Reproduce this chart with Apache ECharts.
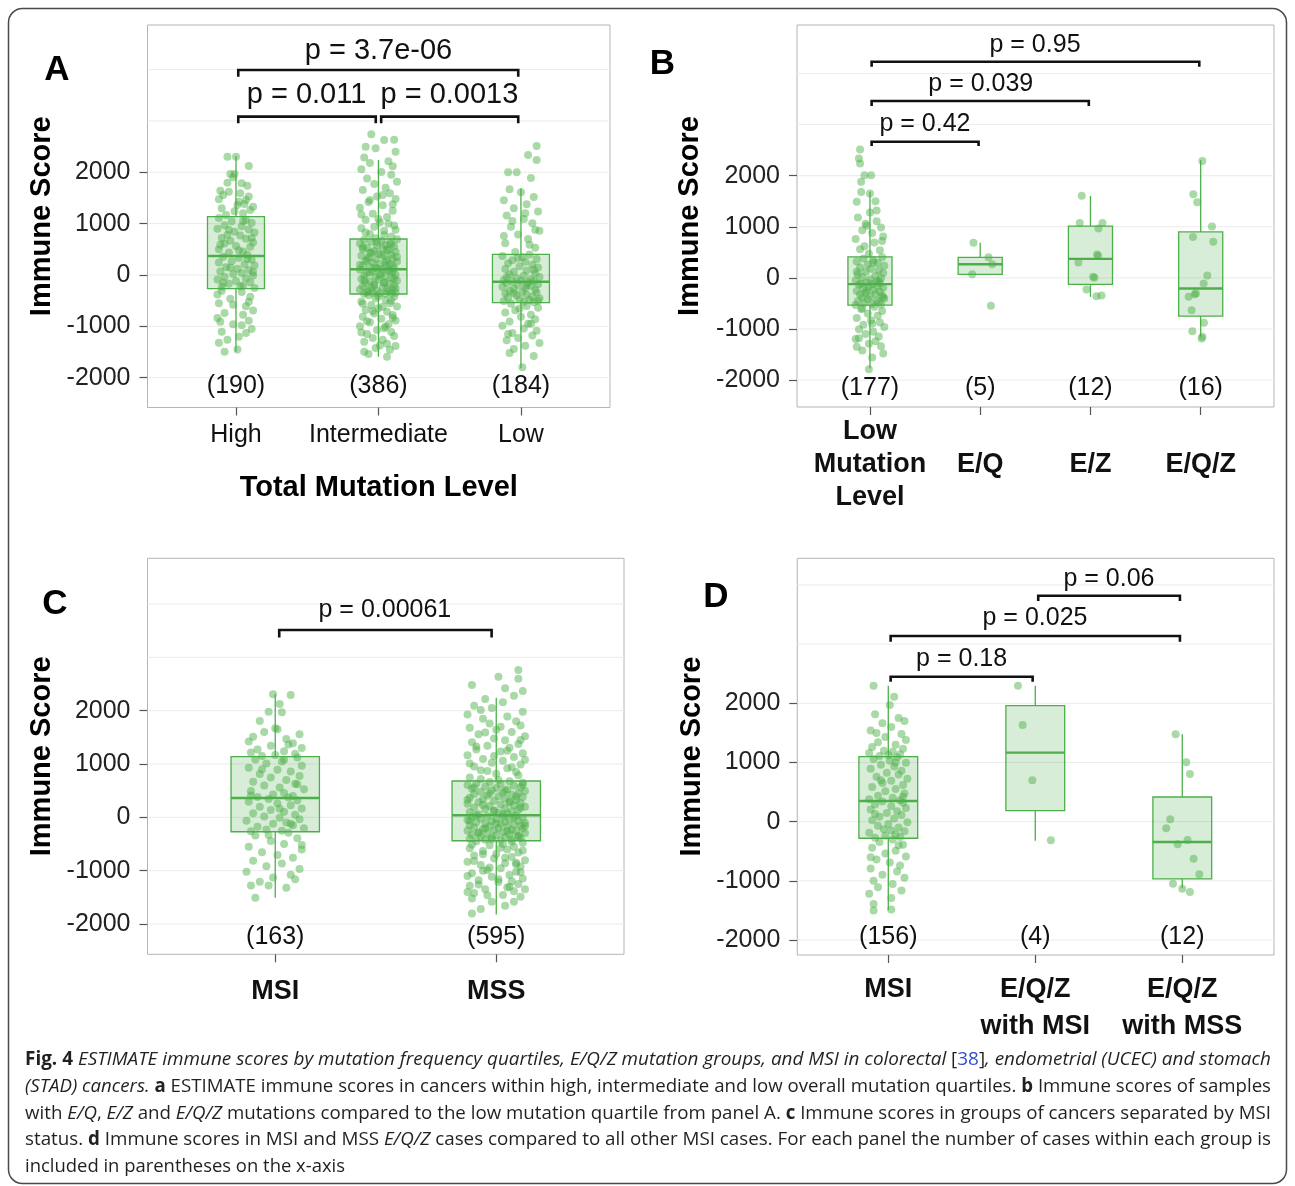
<!DOCTYPE html>
<html><head><meta charset="utf-8">
<script src="https://cdn.jsdelivr.net/npm/echarts@6/dist/echarts.min.js"></script>
<style>html,body{margin:0;padding:0;background:#fff}#c{width:1295px;height:1186px}</style>
</head><body><div id="c"></div>
<script>
// ---------------- DATA ----------------
const catsA = ['High', 'Intermediate', 'Low'];
const catsB = ['Low\nMutation\nLevel', 'E/Q', 'E/Z', 'E/Q/Z'];
const catsC = ['MSI', 'MSS'];
const catsD = ['MSI', 'E/Q/Z\nwith MSI', 'E/Q/Z\nwith MSS'];
const countsA = ['(190)', '(386)', '(184)'];
const countsB = ['(177)', '(5)', '(12)', '(16)'];
const countsC = ['(163)', '(595)'];
const countsD = ['(156)', '(4)', '(12)'];
const yTickValues = [-2000, -1000, 0, 1000, 2000];
const gridValues = [-2000, -1000, 0, 1000, 2000, 3000, 4000];

// box stats: [lower whisker, Q1, median, Q3, upper whisker]
const boxA = [[-1494, -267, 370, 1135, 2317], [-1591, -370, 111, 701, 2240], [-1817, -539, -130, 403, 1688]];
const boxB = [[-1773, -534, -123, 411, 1688], [70, 70, 265, 402, 688], [-372, -129, 372, 1012, 1605], [-1155, -750, -207, 900, 2303]];
const boxC = [[-1508, -270, 362, 1137, 2308], [-1820, -439, 38, 681, 2244]];
const boxD = [[-1492, -280, 350, 1098, 2297], [-321, 186, 1166, 1960, 2297], [-1125, -968, -343, 417, 1476]];

// brackets: [x1, x2, bar y, tip y]; p labels: [text, x, y]
const bracketsA = [[1.016, 1.981, 3083, 2954], [2.019, 2.981, 3083, 2954], [1.016, 2.981, 3992, 3862]];
const pLabelsA = [['p = 0.011', 1.495, 3505], ['p = 0.0013', 2.498, 3505], ['p = 3.7e-06', 2.0, 4368]];
const bracketsB = [[1.015, 1.985, 2665, 2581], [1.015, 2.985, 3461, 3363], [1.015, 3.987, 4232, 4134]];
const pLabelsB = [['p = 0.42', 1.499, 3018], ['p = 0.039', 2.005, 3799], ['p = 0.95', 2.497, 4558]];
const bracketsC = [[1.018, 1.979, 3514, 3370]];
const pLabelsC = [['p = 0.00061', 1.496, 3884]];
const bracketsD = [[1.016, 1.982, 2449, 2365], [1.016, 2.984, 3137, 3041], [2.020, 2.984, 3818, 3728]];
const pLabelsD = [['p = 0.18', 1.499, 2740], ['p = 0.025', 1.998, 3436], ['p = 0.06', 2.501, 4095]];

// jittered points: [horizontal jitter (category units), immune score]
const ptsAHigh = [[-0.06,2304],[0.0,2304],[0.09,2123],[-0.04,1967],[-0.01,1967],[-0.06,1798],[0.04,1785],[0.08,1739],[-0.11,1642],[-0.05,1622],[0.03,1590],[0.09,1529],[-0.12,1474],[0.02,1428],[0.06,1383],[-0.10,1298],[0.01,1363],[0.10,1266],[0.05,1201],[-0.07,1168],[-0.02,1904],[-0.09,1560],[0.12,1330],
[-0.12,1110],[0.07,1072],[-0.03,1046],[0.11,1015],[-0.08,968],[0.04,951],[-0.13,902],[0.09,887],[-0.01,843],[0.13,826],[-0.06,781],[0.03,769],[-0.10,722],[0.07,705],[-0.04,668],[0.12,631],[-0.08,612],[0.00,566],[0.10,548],[-0.12,503],[0.05,459],[-0.05,437],[0.08,392],
[-0.09,355],[0.02,330],[0.11,296],[-0.03,270],[-0.12,241],[0.06,206],[0.13,187],[-0.07,150],[0.01,122],[0.09,96],[-0.11,70],[0.04,41],[-0.02,18],[0.12,-8],[-0.08,-35],[0.07,-61],[-0.13,-90],[0.00,-118],[0.10,-142],[-0.05,-171],[0.05,-202],[-0.10,-230],[0.13,-255],
[-0.10,-306],[0.04,-330],[0.10,-423],[-0.04,-460],[-0.12,-551],[-0.02,-580],[0.07,-609],[0.12,-690],[-0.08,-740],[0.05,-772],[-0.13,-835],[0.09,-890],[-0.11,-909],[-0.02,-960],[0.04,-977],[0.11,-1050],[-0.10,-1104],[0.07,-1130],[0.02,-1201],[-0.06,-1262],[-0.12,-1318],[-0.08,-1494],[0.01,-1450],
[0.05,1050],[-0.05,880],[0.11,720],[-0.11,590],[0.02,480],[0.08,310],[-0.04,140],[0.12,60],[-0.09,-150],[0.03,-220],[-0.01,1240],[0.07,1460],[-0.13,-380],[0.09,-520]];
const ptsAInter = [[-0.05,2740],[-0.09,2499],[-0.02,2470],[0.04,2629],[0.11,2636],[0.12,2401],[-0.10,2290],[0.07,2215],[-0.06,2180],[0.10,2120],[-0.12,2060],[0.02,2005],[0.09,1950],[-0.08,1880],[0.13,1815],[-0.03,1770],[0.05,1700],[-0.11,1655],[0.08,1590],[-0.01,1530],[0.12,1480],[-0.07,1420],[0.03,1360],[-0.13,1310],[0.10,1250],[-0.04,1195],[0.06,1130],[-0.09,1075],[0.01,1020],[0.11,965],[-0.12,910],[0.04,860],[-0.06,800],[0.09,752],[-0.02,715],
[0.13,696],[-0.10,684],[0.02,661],[-0.05,648],[0.08,622],[-0.13,611],[0.05,588],[-0.01,571],[0.11,559],[-0.08,532],[0.03,517],[-0.11,506],[0.07,480],[-0.03,466],[0.12,451],[-0.06,428],[0.00,412],[0.09,401],[-0.12,377],[0.04,364],[-0.07,341],[0.10,322],[-0.02,313],[0.06,289],[-0.09,271],[0.13,262],[-0.04,238],[0.01,220],[0.08,207],[-0.11,185],[0.05,168],[-0.06,154],[0.11,133],[-0.01,124],[0.03,114],
[-0.13,104],[0.07,92],[-0.04,71],[0.10,60],[-0.08,38],[0.02,22],[0.12,5],[-0.10,-12],[0.05,-26],[-0.02,-44],[0.09,-58],[-0.12,-77],[0.00,-91],[0.13,-110],[-0.06,-124],[0.04,-141],[-0.09,-160],[0.08,-172],[-0.03,-190],[0.11,-205],[-0.11,-221],[0.03,-239],[-0.05,-252],[0.06,-270],[-0.13,-282],[0.10,-299],[-0.01,-311],[0.07,-322],[-0.08,-334],[0.12,-344],[-0.04,-351],[0.01,-358],[0.09,-362],[-0.10,-366],[0.05,-369],
[-0.07,-392],[0.11,-425],[-0.02,-451],[0.05,-488],[-0.12,-517],[0.08,-549],[-0.05,-583],[0.13,-612],[0.00,-648],[-0.09,-680],[0.06,-714],[-0.03,-748],[0.10,-781],[-0.11,-815],[0.02,-852],[0.12,-886],[-0.06,-921],[0.07,-960],[-0.13,-998],[0.04,-1035],[-0.01,-1072],[0.09,-1110],[-0.08,-1148],[0.11,-1187],[-0.04,-1225],[0.03,-1262],[-0.10,-1300],[0.06,-1340],[0.12,-1381],[-0.02,-1420],[0.08,-1455],[-0.10,-1494],[0.06,-1591],[-0.07,-1540],[0.01,-1375],
[0.03,1560],[-0.06,1460],[0.10,1380],[-0.12,1180],[0.00,1090],[0.07,1000],[-0.03,940],[0.12,880],[-0.09,830],[0.04,780],[-0.01,640],[0.09,600],[-0.11,545],[0.06,490],[-0.05,440],[0.02,390],[0.13,350],[-0.08,300],[0.05,250],[-0.13,200],[0.10,175],[-0.02,145],[0.08,80],[-0.06,50],[0.01,-5],[0.11,-70],[-0.10,-100],[0.04,-150],[-0.03,-200],[0.12,-260],[-0.07,-300],[0.00,-420],[0.09,-500],[-0.11,-560],[0.03,-620],[-0.04,-700],[0.10,-830],[-0.08,-900],[0.05,-1010],[-0.12,-1120]];
const ptsALow = [[0.11,2512],[0.05,2337],[0.11,2240],[-0.09,2000],[-0.03,2000],[0.07,1890],[-0.08,1669],[0.00,1610],[0.09,1520],[-0.12,1455],[0.04,1380],[-0.05,1300],[0.12,1235],[-0.10,1160],[0.02,1090],[0.08,1010],[-0.07,940],[0.13,860],[-0.02,790],[0.05,700],[-0.11,620],[0.10,530],[-0.04,450],
[0.06,398],[-0.13,372],[0.01,345],[0.11,311],[-0.06,287],[0.03,256],[-0.09,230],[0.08,198],[-0.01,172],[0.12,144],[-0.11,115],[0.04,90],[-0.05,63],[0.10,36],[-0.08,10],[0.02,-14],[0.13,-38],[-0.03,-57],[0.07,-77],[-0.12,-96],[0.00,-108],[0.09,-119],[-0.06,-127],
[0.05,-140],[-0.10,-160],[0.12,-178],[-0.02,-196],[0.07,-215],[-0.13,-231],[0.03,-252],[-0.05,-270],[0.10,-289],[-0.08,-305],[0.01,-326],[0.11,-341],[-0.11,-362],[0.04,-380],[-0.03,-399],[0.08,-418],[-0.09,-437],[0.13,-452],[-0.01,-472],[0.06,-489],[-0.12,-507],[0.02,-521],[0.09,-533],
[-0.07,-561],[0.04,-602],[0.12,-640],[-0.04,-688],[-0.11,-730],[0.07,-772],[0.00,-815],[0.10,-860],[-0.08,-905],[0.05,-948],[-0.13,-990],[0.02,-1040],[0.11,-1085],[-0.06,-1130],[0.08,-1178],[-0.02,-1225],[-0.10,-1270],[0.13,-1322],[0.03,-1380],[-0.05,-1440],[0.09,-1577],[0.01,-1798],[-0.08,-1520],
[0.03,1200],[-0.06,1050],[0.10,880],[-0.12,760],[0.06,590],[-0.02,330],[0.09,100],[-0.10,-40],[0.04,-200],[-0.05,-350],[0.12,-500],[-0.01,-650],[0.07,-950],[-0.09,-1150]];

const ptsBLow = [[-0.09,2513],[-0.10,2337],[-0.09,2240],[-0.05,2010],[0.01,2010],[-0.08,1880],[-0.08,1683],[0.00,1650],[0.05,1501],[-0.12,1490],[0.00,1280],[-0.11,1180],[0.06,1110],[-0.03,1020],[0.10,985],[-0.07,930],[0.02,880],[0.12,810],[-0.13,760],[0.04,690],[-0.05,620],[0.09,540],[-0.01,470],
[0.11,405],[-0.06,380],[0.03,352],[-0.12,320],[0.07,291],[-0.02,262],[0.13,238],[-0.09,205],[0.01,180],[0.08,151],[-0.04,120],[0.12,95],[-0.11,66],[0.05,41],[-0.07,14],[0.10,-10],[0.00,-33],[-0.13,-51],[0.06,-72],[-0.03,-90],[0.09,-104],[-0.08,-115],[0.02,-120],
[-0.10,-136],[0.07,-157],[-0.01,-172],[0.12,-195],[-0.06,-213],[0.03,-236],[-0.12,-255],[0.09,-274],[-0.04,-292],[0.05,-310],[-0.09,-331],[0.11,-348],[0.00,-366],[-0.07,-384],[0.13,-402],[-0.02,-420],[0.06,-441],[-0.11,-458],[0.08,-476],[-0.05,-492],[0.02,-510],[0.10,-522],[-0.13,-530],
[0.04,-566],[-0.08,-608],[0.11,-651],[-0.02,-697],[0.07,-740],[-0.12,-785],[0.01,-830],[0.09,-872],[-0.06,-918],[0.13,-962],[-0.10,-1008],[0.03,-1054],[-0.04,-1100],[0.08,-1146],[-0.13,-1195],[0.05,-1240],[-0.01,-1290],[0.10,-1338],[-0.12,-1350],[-0.07,-1420],[0.02,-1560],[-0.01,-1787],[0.12,-1480],
[0.06,1320],[-0.04,1060],[0.11,720],[-0.09,560],[0.03,300],[-0.12,120],[0.08,-60],[-0.03,-250],[0.12,-380],[-0.07,-600],[0.02,-900],[-0.10,-1180]];
const ptsBEQ = [[-0.061,688],[0.075,402],[0.109,265],[-0.073,70],[0.097,-545]];
const ptsBEZ = [[-0.079,1605],[-0.097,1076],[0.109,1076],[0.073,966],[0.060,457],[0.069,431],[-0.109,300],[0.024,20],[0.036,0],[-0.036,-228],[0.054,-358],[0.100,-345]];
const ptsBEQZ = [[0.015,2290],[-0.067,1638],[-0.031,1481],[0.102,1006],[-0.070,802],[0.114,705],[0.060,47],[0.027,-110],[-0.043,-305],[-0.109,-372],[-0.054,-319],[-0.082,-632],[0.030,-881],[-0.076,-1043],[0.015,-1155],[0.009,-1186]];

const ptsCMSI = [[-0.01,2308],[0.07,2295],[0.02,2126],[-0.03,1981],[0.03,1970],[-0.07,1807],[0.00,1670],[0.01,1650],[-0.05,1600],[0.11,1560],[-0.10,1512],[0.05,1470],[-0.12,1420],[0.08,1390],[-0.02,1340],[0.12,1300],[-0.08,1270],[0.04,1240],[-0.11,1215],[0.09,1190],[0.00,1170],[-0.06,1152],[0.06,1365],
[0.10,1120],[-0.09,1085],[0.03,1048],[-0.04,1010],[0.12,968],[-0.12,930],[0.01,890],[0.07,860],[-0.07,812],[0.11,776],[-0.02,745],[0.05,702],[-0.10,668],[0.09,630],[-0.05,596],[0.02,561],[0.13,527],[-0.11,492],[0.04,455],[-0.01,428],[0.08,402],[-0.08,381],[0.06,370],
[-0.03,345],[0.10,318],[-0.12,290],[0.01,259],[0.07,225],[-0.07,199],[0.12,168],[-0.02,137],[0.04,104],[-0.10,75],[0.09,48],[-0.05,18],[0.02,-10],[0.11,-38],[-0.13,-66],[0.05,-95],[-0.01,-122],[0.08,-148],[-0.08,-177],[0.13,-203],[-0.04,-228],[0.03,-250],[-0.11,-262],
[0.06,-290],[-0.09,-340],[0.10,-392],[-0.02,-445],[0.04,-498],[-0.12,-550],[0.12,-601],[-0.06,-655],[0.01,-708],[0.08,-760],[-0.10,-812],[0.03,-866],[-0.04,-918],[0.11,-970],[-0.13,-1022],[0.07,-1075],[-0.01,-1130],[0.09,-1160],[-0.07,-1210],[-0.11,-1280],[-0.03,-1280],[0.05,-1321],[-0.09,-1508],
[0.04,1080],[-0.06,900],[0.10,620],[-0.11,410],[0.02,160],[0.07,-120],[-0.03,-330],[0.12,-520]];
const ptsCMSS = [[0.10,2764],[0.01,2638],[-0.11,2482],[0.10,2600],[0.04,2420],[0.12,2370],[-0.05,2219],[-0.07,2013],[0.03,2160],[-0.10,2090],[0.08,2280],[-0.02,2050],[0.12,1980],[-0.13,1930],[0.05,1890],[-0.06,1850],[0.09,1800],[-0.03,1760],[0.11,1720],[-0.12,1680],[0.00,1640],[0.07,1600],[-0.08,1560],[0.13,1520],[-0.01,1480],[0.04,1445],[-0.11,1410],[0.10,1375],[-0.04,1340],[0.06,1305],[-0.09,1270],[0.02,1235],[0.12,1200],[-0.13,1165],[0.08,1130],[-0.06,1095],[0.03,1060],[-0.02,1025],[0.11,990],[-0.10,955],[0.05,920],[-0.07,885],[0.09,850],[0.00,815],[-0.12,745],
[0.06,675],[-0.03,662],[0.12,648],[-0.09,634],[0.02,620],[-0.13,606],[0.08,592],[-0.05,578],[0.11,564],[0.00,550],[-0.11,536],[0.05,522],[-0.02,508],[0.13,494],[-0.07,480],[0.03,466],[0.10,452],[-0.10,438],[0.07,424],[-0.04,410],[0.01,396],[0.12,382],[-0.12,368],[0.04,354],[-0.06,340],[0.09,326],[-0.01,312],[0.06,298],[-0.08,284],[0.11,270],[-0.13,256],[0.02,242],[0.08,228],[-0.03,214],[0.13,200],[-0.10,186],[0.04,172],[-0.05,158],[0.10,144],[-0.01,130],[0.07,116],[-0.12,102],[0.01,88],[0.05,74],[-0.08,56],
[0.09,30],[-0.04,20],[0.03,10],[-0.11,0],[0.12,-10],[-0.07,-21],[0.00,-31],[0.06,-42],[-0.13,-52],[0.10,-63],[-0.02,-73],[0.04,-84],[-0.09,-94],[0.13,-105],[-0.05,-115],[0.02,-126],[0.08,-136],[-0.12,-147],[0.11,-157],[-0.03,-168],[0.05,-178],[-0.10,-189],[0.01,-199],[0.12,-210],[-0.06,-220],[0.07,-231],[-0.01,-241],[-0.13,-252],[0.09,-262],[0.03,-273],[-0.08,-283],[0.13,-294],[-0.04,-304],[0.06,-315],[-0.11,-325],[0.00,-336],[0.10,-346],[-0.07,-357],[0.04,-367],[-0.02,-378],[0.11,-388],[-0.12,-399],[0.07,-409],[-0.05,-420],[0.02,-430],
[-0.09,-450],[0.12,-475],[0.03,-500],[-0.03,-525],[0.08,-552],[-0.12,-578],[0.05,-605],[-0.06,-632],[0.10,-660],[0.00,-688],[-0.10,-716],[0.07,-745],[-0.01,-774],[0.13,-803],[-0.13,-833],[0.04,-863],[-0.07,-893],[0.11,-924],[0.02,-955],[-0.04,-986],[0.09,-1018],[-0.11,-1050],[0.06,-1082],[-0.02,-1115],[0.12,-1148],[-0.08,-1180],[0.01,-1214],[0.10,-1248],[-0.12,-1282],[0.05,-1316],[-0.05,-1350],[0.08,-1385],[-0.10,-1420],[0.03,-1455],[0.11,-1490],[-0.13,-1400],[0.07,-1200],[-0.06,-1000],[0.09,-850],[-0.11,-1520],[-0.02,-1583],[0.08,-1583],[-0.11,-1801],[0.04,-1660],[-0.07,-1720],
[0.02,1700],[-0.05,1590],[0.11,1450],[-0.09,1330],[0.05,1250],[-0.01,1150],[0.13,1080],[-0.12,1010],[0.07,940],[-0.04,870],[0.10,790],[-0.07,720],[0.01,700],[0.12,610],[-0.10,560],[0.04,500],[-0.03,445],[0.09,390],[-0.13,330],[0.06,280],[-0.06,230],[0.11,180],[-0.01,120],[0.03,60],[-0.09,40],[0.08,-5],[-0.12,-60],[0.00,-110],[0.13,-160],[-0.05,-205],[0.05,-250],[-0.08,-300],[0.10,-360],[-0.02,-410],[0.07,-460],[-0.11,-510],[0.02,-570],[0.12,-620],[-0.06,-690],[0.04,-760],[-0.10,-820],[0.09,-880],[-0.03,-940],[0.11,-1030],[-0.13,-1100],[0.01,-1160],[0.06,-1300],[-0.08,-1260],[0.13,-1350],[-0.04,-1460]];

const ptsDMSI = [[-0.10,2297],[0.04,2111],[0.01,1971],[-0.09,1814],[-0.04,1662],[0.07,1750],[0.02,1600],[-0.12,1540],[0.09,1480],[-0.02,1430],[0.12,1380],[-0.07,1340],[0.05,1300],[-0.11,1260],[0.10,1230],[-0.03,1200],[0.03,1180],[-0.13,1160],[0.08,1140],[0.00,1125],[-0.06,1110],[0.11,1700],[-0.08,1500],
[0.06,1090],[-0.10,1060],[0.01,1030],[0.12,995],[-0.05,962],[0.04,930],[-0.12,895],[0.09,862],[-0.01,828],[0.07,795],[-0.08,760],[0.13,725],[0.02,690],[-0.04,655],[0.10,620],[-0.11,585],[0.05,550],[-0.02,512],[0.11,475],[-0.07,438],[0.03,405],[-0.13,378],[0.08,360],
[-0.04,340],[0.10,318],[-0.09,290],[0.02,262],[0.12,232],[-0.12,205],[0.06,175],[-0.01,145],[0.09,112],[-0.06,82],[0.04,52],[-0.11,22],[0.13,-8],[0.00,-40],[-0.07,-70],[0.07,-100],[-0.03,-130],[0.11,-160],[-0.13,-188],[0.05,-215],[-0.02,-240],[0.08,-258],[-0.09,-272],
[0.03,-300],[-0.06,-345],[0.10,-390],[-0.11,-440],[0.05,-490],[-0.02,-540],[0.12,-590],[-0.08,-640],[0.01,-690],[0.08,-740],[-0.12,-790],[0.06,-842],[-0.04,-895],[0.11,-948],[-0.10,-1000],[0.03,-1055],[-0.07,-1110],[0.09,-1165],[-0.13,-1220],[0.02,-1290],[-0.10,-1390],[0.02,-1486],[-0.10,-1503],
[0.05,1000],[-0.05,700],[0.10,420],[-0.09,130],[0.02,-150],[0.07,-400],[-0.12,-600]];
const ptsDEQZMSI = [[-0.118,2297],[-0.086,1633],[-0.020,699],[0.106,-314]];
const ptsDEQZMSS = [[-0.045,1476],[0.027,1003],[0.052,806],[-0.082,40],[-0.109,-112],[0.036,-309],[-0.031,-382],[0.077,-625],[0.116,-889],[-0.063,-1047],[0.0,-1132],[0.052,-1188]];

// caption lines: [style, text]
const captionLines = [
  [['b','Fig. 4 '],['i','ESTIMATE immune scores by mutation frequency quartiles, E/Q/Z mutation groups, and MSI in colorectal '],['n','['],['l','38'],['n',']'],['i',', endometrial (UCEC) and stomach']],
  [['i','(STAD) cancers. '],['b','a '],['n','ESTIMATE immune scores in cancers within high, intermediate and low overall mutation quartiles. '],['b','b '],['n','Immune scores of samples']],
  [['n','with '],['i','E/Q'],['n',', '],['i','E/Z'],['n',' and '],['i','E/Q/Z'],['n',' mutations compared to the low mutation quartile from panel A. '],['b','c '],['n','Immune scores in groups of cancers separated by MSI']],
  [['n','status. '],['b','d '],['n','Immune scores in MSI and MSS '],['i','E/Q/Z'],['n',' cases compared to all other MSI cases. For each panel the number of cases within each group is']],
  [['n','included in parentheses on the x-axis']]
];

// ---------------- RENDER ----------------
const FONT = "'Liberation Sans', Arial, Helvetica, sans-serif";
const GREEN = '#4DAF4A';
const chart = echarts.init(document.getElementById('c'), null, {renderer: 'canvas'});

const panels = [
  {cats: catsA, counts: countsA, box: boxA, br: bracketsA, pl: pLabelsA, pts: [ptsAHigh, ptsAInter, ptsALow],
   grid: {left: 147.5, top: 25, width: 462.5, height: 382.5}, x: [0.379, 3.625], y: [-2580, 4868], countY: -2170, pFont: 29,
   xl: {fontSize: 25, fontWeight: 'normal', verticalAlign: 'middle', margin: 27.5, lineHeight: 30},
   xName: 'Total Mutation Level', yGap: 105.8},
  {cats: catsB, counts: countsB, box: boxB, br: bracketsB, pl: pLabelsB, pts: [ptsBLow, ptsBEQ, ptsBEZ, ptsBEQZ],
   grid: {left: 797, top: 25, width: 477, height: 382}, x: [0.338, 4.665], y: [-2528, 4950], countY: -2149, pFont: 25,
   xl: {fontSize: 27, fontWeight: 'bold', verticalAlign: 'middle', margin: 58, lineHeight: 33},
   xName: '', yGap: 107},
  {cats: catsC, counts: countsC, box: boxC, br: bracketsC, pl: pLabelsC, pts: [ptsCMSI, ptsCMSS],
   grid: {left: 147.5, top: 558.3, width: 476.5, height: 396}, x: [0.422, 2.578], y: [-2568, 4857], countY: -2240, pFont: 25,
   xl: {fontSize: 27, fontWeight: 'bold', verticalAlign: 'middle', margin: 37.7, lineHeight: 37},
   xName: '', yGap: 105.8},
  {cats: catsD, counts: countsD, box: boxD, br: bracketsD, pl: pLabelsD, pts: [ptsDMSI, ptsDEQZMSI, ptsDEQZMSS],
   grid: {left: 797.3, top: 558.3, width: 476.7, height: 396.7}, x: [0.381, 3.624], y: [-2253, 4450], countY: -1956, pFont: 25,
   xl: {fontSize: 27, fontWeight: 'bold', verticalAlign: 'top', margin: 16.5, lineHeight: 37},
   xName: '', yGap: 105.6}
];

const grids = [], xAxes = [], yAxes = [], series = [];
panels.forEach((p, k) => {
  grids.push(Object.assign({show: true, borderColor: '#b5b5b5', borderWidth: 1, backgroundColor: '#fff', containLabel: false}, p.grid));
  const catVals = p.cats.map((c, i) => i + 1);
  xAxes.push({
    gridIndex: k, type: 'value', min: p.x[0], max: p.x[1],
    axisLine: {show: false, onZero: false},
    axisTick: {show: true, length: 8, customValues: catVals, lineStyle: {color: '#555', width: 1.2}},
    axisLabel: {customValues: catVals, formatter: v => p.cats[Math.round(v) - 1] || '',
      fontFamily: FONT, color: '#111', align: 'center',
      fontSize: p.xl.fontSize, fontWeight: p.xl.fontWeight, verticalAlign: p.xl.verticalAlign,
      margin: p.xl.margin, lineHeight: p.xl.lineHeight},
    splitLine: {show: false},
    name: p.xName, nameLocation: 'middle', nameGap: 80.5,
    nameTextStyle: {fontFamily: FONT, fontSize: 29, fontWeight: 'bold', color: '#000', verticalAlign: 'middle'}
  });
  yAxes.push({
    gridIndex: k, type: 'value', min: p.y[0], max: p.y[1],
    axisLine: {show: false, onZero: false},
    axisTick: {show: true, length: 8, customValues: yTickValues, lineStyle: {color: '#555', width: 1.2}},
    axisLabel: {customValues: yTickValues, formatter: v => String(Math.round(v)),
      fontFamily: FONT, fontSize: 25, color: '#222', margin: 17},
    splitLine: {show: false},
    name: 'Immune Score', nameLocation: 'middle', nameGap: p.yGap, nameRotate: 90,
    nameTextStyle: {fontFamily: FONT, fontSize: 29, fontWeight: 'bold', color: '#000', verticalAlign: 'middle'}
  });
  // gridlines
  series.push({
    type: 'custom', xAxisIndex: k, yAxisIndex: k, z: 1, silent: true,
    data: gridValues.map(v => [1, v]),
    renderItem: (params, api) => {
      const cs = params.coordSys;
      const y = api.coord([1, api.value(1)])[1];
      return {type: 'line', shape: {x1: cs.x, y1: y, x2: cs.x + cs.width, y2: y},
        style: {stroke: '#ebebeb', lineWidth: 1}};
    }
  });
  // jittered points
  const scatterData = [];
  p.pts.forEach((grp, gi) => grp.forEach(pt => scatterData.push([gi + 1 + pt[0], pt[1]])));
  series.push({
    type: 'scatter', xAxisIndex: k, yAxisIndex: k, z: 2, silent: true,
    symbol: 'circle', symbolSize: 8, data: scatterData,
    itemStyle: {color: 'rgba(77,175,74,0.6)', borderWidth: 0}
  });
  // boxes
  series.push({
    type: 'custom', xAxisIndex: k, yAxisIndex: k, z: 3, silent: true,
    data: p.box.map((b, i) => [i + 1].concat(b)),
    renderItem: (params, api) => {
      const x = api.value(0);
      const lo = api.coord([x, api.value(1)]), q1 = api.coord([x, api.value(2)]),
            md = api.coord([x, api.value(3)]), q3 = api.coord([x, api.value(4)]),
            hi = api.coord([x, api.value(5)]);
      const hw = api.size([0.4, 0])[0] / 2;
      return {type: 'group', children: [
        {type: 'line', shape: {x1: lo[0], y1: lo[1], x2: q1[0], y2: q1[1]}, style: {stroke: GREEN, lineWidth: 1.3}},
        {type: 'line', shape: {x1: q3[0], y1: q3[1], x2: hi[0], y2: hi[1]}, style: {stroke: GREEN, lineWidth: 1.3}},
        {type: 'rect', shape: {x: q3[0] - hw, y: q3[1], width: 2 * hw, height: q1[1] - q3[1]},
          style: {fill: 'rgba(77,175,74,0.22)', stroke: GREEN, lineWidth: 1.3}},
        {type: 'line', shape: {x1: md[0] - hw, y1: md[1], x2: md[0] + hw, y2: md[1]}, style: {stroke: GREEN, lineWidth: 2.4}}
      ]};
    }
  });
  // brackets
  series.push({
    type: 'custom', xAxisIndex: k, yAxisIndex: k, z: 4, silent: true,
    data: p.br.map(b => b.slice()),
    renderItem: (params, api) => {
      const a = api.coord([api.value(0), api.value(3)]), b = api.coord([api.value(0), api.value(2)]),
            c = api.coord([api.value(1), api.value(2)]), d = api.coord([api.value(1), api.value(3)]);
      return {type: 'polyline', shape: {points: [a, b, c, d]}, style: {stroke: '#111', lineWidth: 2.6, fill: null}};
    }
  });
  // p-value labels
  series.push({
    type: 'custom', xAxisIndex: k, yAxisIndex: k, z: 4, silent: true,
    data: p.pl.map(l => [l[1], l[2]]),
    renderItem: (params, api) => {
      const pt = api.coord([api.value(0), api.value(1)]);
      return {type: 'text', x: pt[0], y: pt[1], style: {text: p.pl[params.dataIndex][0], fontFamily: FONT,
        fontSize: p.pFont, fill: '#111', align: 'center', verticalAlign: 'middle'}};
    }
  });
  // count labels
  series.push({
    type: 'custom', xAxisIndex: k, yAxisIndex: k, z: 4, silent: true,
    data: p.counts.map((c, i) => [i + 1, p.countY]),
    renderItem: (params, api) => {
      const pt = api.coord([api.value(0), api.value(1)]);
      return {type: 'text', x: pt[0], y: pt[1], style: {text: p.counts[params.dataIndex], fontFamily: FONT,
        fontSize: 25, fill: '#111', align: 'center', verticalAlign: 'middle'}};
    }
  });
});

// caption (rich text, each line fitted to its measured width)
const CAP_FONT = "'Open Sans', 'Noto Sans', sans-serif";
const CAP_SIZE = 19;
const mctx = document.createElement('canvas').getContext('2d');
function segFont(s) {
  return (s === 'i' ? 'italic ' : '') + (s === 'b' ? 'bold ' : '') + CAP_SIZE + 'px ' + CAP_FONT;
}
const capY = [1060, 1087, 1113.5, 1140, 1166.5];
const capTargets = [1246, 1246, 1246, 1246, 320];
const richStyles = {
  n: {fontFamily: CAP_FONT, fontSize: CAP_SIZE, fill: '#231f20'},
  i: {fontFamily: CAP_FONT, fontSize: CAP_SIZE, fontStyle: 'italic', fill: '#231f20'},
  b: {fontFamily: CAP_FONT, fontSize: CAP_SIZE, fontWeight: 'bold', fill: '#231f20'},
  l: {fontFamily: CAP_FONT, fontSize: CAP_SIZE, fill: '#2f4fd0'}
};
const captionGraphics = captionLines.map((segs, li) => {
  let w = 0;
  segs.forEach(([s, t]) => { mctx.font = segFont(s); w += mctx.measureText(t).width; });
  const text = segs.map(([s, t]) => '{' + s + '|' + t + '}').join('');
  return {type: 'text', x: 25, y: capY[li], scaleX: capTargets[li] / w, silent: true,
    style: {text, rich: richStyles, fontFamily: CAP_FONT, fontSize: CAP_SIZE, align: 'left', verticalAlign: 'middle', fill: '#231f20'}};
});

const letters = [['A', 57, 70], ['B', 662.5, 64], ['C', 55, 604], ['D', 716, 597]];
const letterGraphics = letters.map(([t, x, y]) => ({type: 'text', x, y, silent: true,
  style: {text: t, fontFamily: FONT, fontSize: 35, fontWeight: 'bold', fill: '#000', align: 'center', verticalAlign: 'middle'}}));

chart.setOption({
  animation: false,
  backgroundColor: '#fff',
  grid: grids, xAxis: xAxes, yAxis: yAxes, series,
  graphic: [
    {type: 'rect', shape: {x: 8.5, y: 8.5, width: 1278, height: 1175, r: 14}, silent: true, z: -10,
      style: {fill: 'none', stroke: '#4a4a4a', lineWidth: 1.5}}
  ].concat(letterGraphics, captionGraphics)
});
</script></body></html>
